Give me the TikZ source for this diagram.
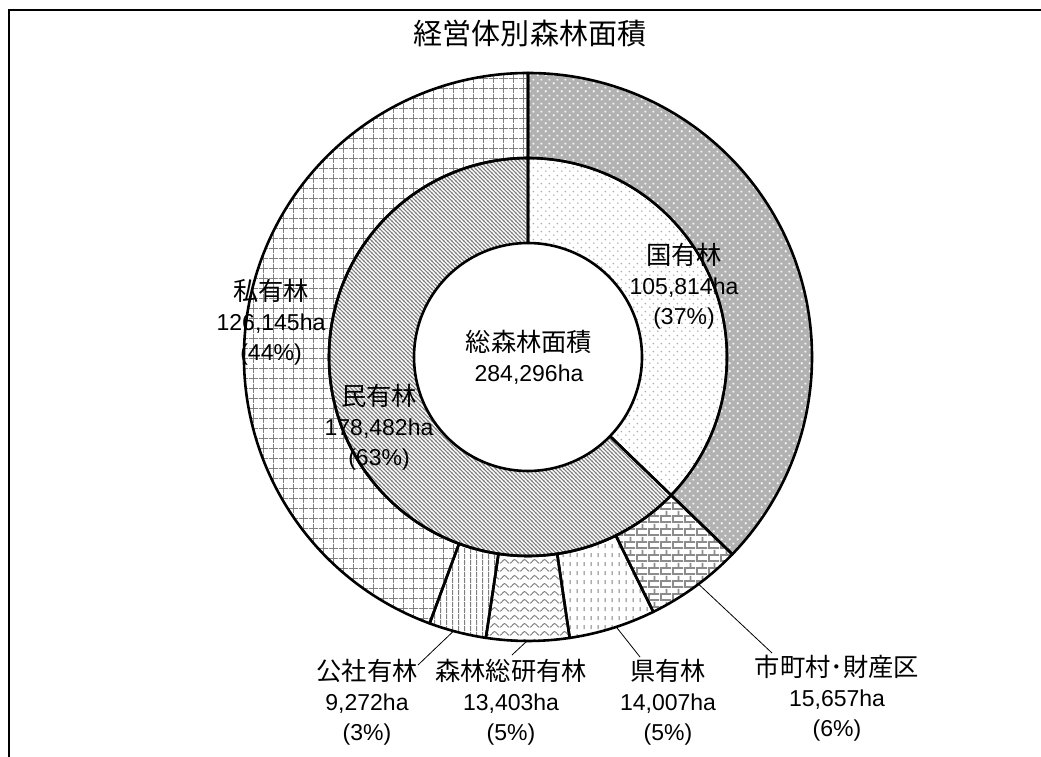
\documentclass[tikz,border=0pt]{standalone}
\usepackage{fontspec}
\setmainfont{Liberation Sans}
\newfontfamily\jp{Noto Sans CJK JP}[Scale=1.1]
\usetikzlibrary{patterns}

\pgfdeclarepatternformonly{pgrid}{\pgfqpoint{0pt}{0pt}}{\pgfqpoint{9.5pt}{9.5pt}}{\pgfqpoint{9.5pt}{9.5pt}}{%
 \pgfsetlinewidth{1pt}%
 \pgfpathmoveto{\pgfqpoint{0pt}{4.75pt}}\pgfpathlineto{\pgfqpoint{9.5pt}{4.75pt}}%
 \pgfpathmoveto{\pgfqpoint{4.75pt}{0pt}}\pgfpathlineto{\pgfqpoint{4.75pt}{9.5pt}}%
 \pgfusepath{stroke}}
\pgfdeclarepatternformonly{pdiag}{\pgfqpoint{0pt}{0pt}}{\pgfqpoint{4.4pt}{4.4pt}}{\pgfqpoint{4.4pt}{4.4pt}}{%
 \pgfsetlinewidth{1.3pt}%
 \pgfpathmoveto{\pgfqpoint{-1pt}{5.4pt}}\pgfpathlineto{\pgfqpoint{5.4pt}{-1pt}}%
 \pgfpathmoveto{\pgfqpoint{-1pt}{1pt}}\pgfpathlineto{\pgfqpoint{1pt}{-1pt}}%
 \pgfpathmoveto{\pgfqpoint{3.4pt}{5.4pt}}\pgfpathlineto{\pgfqpoint{5.4pt}{3.4pt}}%
 \pgfusepath{stroke}}
\pgfdeclarepatternformonly{pdots}{\pgfqpoint{0pt}{0pt}}{\pgfqpoint{8pt}{8pt}}{\pgfqpoint{8pt}{8pt}}{%
 \pgfpathcircle{\pgfqpoint{2pt}{2pt}}{0.9pt}%
 \pgfpathcircle{\pgfqpoint{6pt}{6pt}}{0.9pt}%
 \pgfusepath{fill}}
\pgfdeclarepatternformonly{pplus}{\pgfqpoint{0pt}{0pt}}{\pgfqpoint{8pt}{8pt}}{\pgfqpoint{8pt}{8pt}}{%
 \pgfsetlinewidth{0.8pt}%
 \pgfpathmoveto{\pgfqpoint{0.8pt}{2pt}}\pgfpathlineto{\pgfqpoint{3.2pt}{2pt}}%
 \pgfpathmoveto{\pgfqpoint{2pt}{0.8pt}}\pgfpathlineto{\pgfqpoint{2pt}{3.2pt}}%
 \pgfpathmoveto{\pgfqpoint{4.8pt}{6pt}}\pgfpathlineto{\pgfqpoint{7.2pt}{6pt}}%
 \pgfpathmoveto{\pgfqpoint{6pt}{4.8pt}}\pgfpathlineto{\pgfqpoint{6pt}{7.2pt}}%
 \pgfusepath{stroke}}
\pgfdeclarepatternformonly{pvert}{\pgfqpoint{0pt}{0pt}}{\pgfqpoint{6pt}{6pt}}{\pgfqpoint{6pt}{6pt}}{%
 \pgfsetlinewidth{1.3pt}%
 \pgfpathmoveto{\pgfqpoint{3pt}{0pt}}\pgfpathlineto{\pgfqpoint{3pt}{6pt}}%
 \pgfusepath{stroke}}
\pgfdeclarepatternformonly{pwave}{\pgfqpoint{0pt}{0pt}}{\pgfqpoint{10pt}{8pt}}{\pgfqpoint{10pt}{8pt}}{%
 \pgfsetlinewidth{1.1pt}%
 \pgfpathmoveto{\pgfqpoint{0pt}{2pt}}%
 \pgfpathcurveto{\pgfqpoint{1.5pt}{2pt}}{\pgfqpoint{3.5pt}{6pt}}{\pgfqpoint{5pt}{6pt}}%
 \pgfpathcurveto{\pgfqpoint{6.5pt}{6pt}}{\pgfqpoint{8.5pt}{2pt}}{\pgfqpoint{10pt}{2pt}}%
 \pgfusepath{stroke}}
\pgfdeclarepatternformonly{pdash}{\pgfqpoint{0pt}{0pt}}{\pgfqpoint{7pt}{9pt}}{\pgfqpoint{7pt}{9pt}}{%
 \pgfsetlinewidth{1.2pt}%
 \pgfpathmoveto{\pgfqpoint{3.5pt}{2pt}}\pgfpathlineto{\pgfqpoint{3.5pt}{6.5pt}}%
 \pgfusepath{stroke}}
\pgfdeclarepatternformonly{pbrick}{\pgfqpoint{0pt}{0pt}}{\pgfqpoint{12pt}{13pt}}{\pgfqpoint{12pt}{13pt}}{%
 \pgfsetlinewidth{1.8pt}%
 \pgfpathmoveto{\pgfqpoint{0pt}{1pt}}\pgfpathlineto{\pgfqpoint{12pt}{1pt}}%
 \pgfpathmoveto{\pgfqpoint{0pt}{7.5pt}}\pgfpathlineto{\pgfqpoint{12pt}{7.5pt}}%
 \pgfpathmoveto{\pgfqpoint{1pt}{1pt}}\pgfpathlineto{\pgfqpoint{1pt}{7.5pt}}%
 \pgfpathmoveto{\pgfqpoint{7pt}{7.5pt}}\pgfpathlineto{\pgfqpoint{7pt}{13pt}}%
 \pgfpathmoveto{\pgfqpoint{7pt}{0pt}}\pgfpathlineto{\pgfqpoint{7pt}{1pt}}%
 \pgfusepath{stroke}}

\newcommand\annsec[5]{% style, r_in, r_out, a1, a2
 \path[#1] ([shift={(#4:#3)}]C) arc[start angle=#4, end angle=#5, radius=#3]
   -- ([shift={(#5:#2)}]C) arc[start angle=#5, end angle=#4, radius=#2] -- cycle;}

\begin{document}
\begin{tikzpicture}[x=1pt,y=1pt,
  seg/.style={draw=black, line width=2.6pt, line join=round},
  lbl/.style={align=center, font=\fontsize{23}{30}\selectfont, inner sep=0pt},
  leader/.style={draw=black, line width=0.8pt}]
\useasboundingbox (0,0) rectangle (1041,756);
\draw[line width=1.5pt] (9,-10) -- (9,746) -- (1050,746);
\coordinate (C) at (528,399);

% inner ring
\annsec{seg, pattern=pdots, pattern color=black!35}{114}{199}{90}{-43.99}
\annsec{seg, pattern=pdiag, pattern color=black!50}{114}{199}{-43.99}{-270}
% outer ring
\annsec{seg, preaction={fill=black!30}, pattern=pplus, pattern color=white}{199}{284}{90}{-43.99}
\annsec{seg, pattern=pbrick, pattern color=black!45}{199}{284}{-43.99}{-63.82}
\annsec{seg, pattern=pdash, pattern color=black!50}{199}{284}{-63.82}{-81.56}
\annsec{seg, pattern=pwave, pattern color=black!50}{199}{284}{-81.56}{-98.53}
\annsec{seg, pattern=pvert, pattern color=black!50}{199}{284}{-98.53}{-110.27}
\annsec{seg, pattern=pgrid, pattern color=black!50}{199}{284}{-110.27}{-270}

% title
\node (title) at (530,723) {\fontsize{26.4}{30}\selectfont\jp 経営体別森林面積};

% labels
\node[lbl] (total) at (529,399) {{\jp 総森林面積}\\284,296ha};
\node[lbl] (koku) at (684,470) {{\jp 国有林}\\105,814ha\\(37\%)};
\node[lbl] (shi) at (271,434) {{\jp 私有林}\\126,145ha\\(44\%)};
\node[lbl] (min) at (379,329) {{\jp 民有林}\\178,482ha\\(63\%)};
\node[lbl] (kosha) at (367,54) {{\jp 公社有林}\\9,272ha\\(3\%)};
\node[lbl] (soken) at (511,54) {{\jp 森林総研有林}\\13,403ha\\(5\%)};
\node[lbl] (ken) at (668,54) {{\jp 県有林}\\14,007ha\\(5\%)};
\node[lbl] (shicho) at (837,58) {{\jp 市町村･財産区}\\15,657ha\\(6\%)};

% leader lines
\coordinate (kA) at ([shift={(-105.2:284)}]C);
\coordinate (kB) at (418,91);
\coordinate (sA) at ([shift={(-90.2:284)}]C);
\coordinate (sB) at (512,101);
\coordinate (eA) at ([shift={(-71.9:284)}]C);
\coordinate (eB) at (640,99);
\coordinate (mA) at ([shift={(-53.1:284)}]C);
\coordinate (mB) at (772,103);
\draw[leader] (kA) -- (kB);
\draw[leader] (sA) -- (sB);
\draw[leader] (eA) -- (eB);
\draw[leader] (mA) -- (mB);
\end{tikzpicture}
\end{document}
